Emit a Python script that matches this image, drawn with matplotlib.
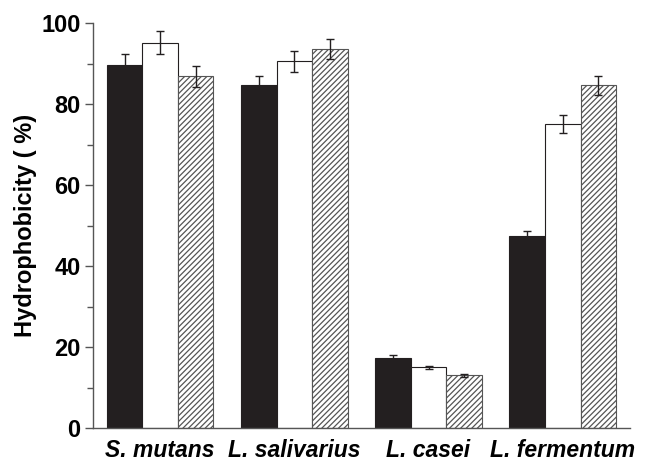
import numpy as np
import matplotlib
matplotlib.use('Agg')
import matplotlib.pyplot as plt
from matplotlib.ticker import MultipleLocator

plt.rcParams['font.family'] = ['Liberation Sans', 'DejaVu Sans']
plt.rcParams['hatch.linewidth'] = 0.9

# Data
strains = ['S. mutans', 'L. salivarius', 'L. casei', 'L. fermentum']
black_vals = [89.8, 84.7, 17.4, 47.4]
black_err = [2.7, 2.2, 0.7, 1.3]
white_vals = [95.2, 90.6, 15.0, 75.1]
white_err = [2.9, 2.6, 0.4, 2.3]
hatch_vals = [86.9, 93.7, 13.0, 84.7]
hatch_err = [2.6, 2.5, 0.3, 2.4]

fig = plt.figure(figsize=(6.46, 4.63), dpi=100)
ax = fig.add_axes([0.144, 0.0756, 0.831, 0.874])

x = np.arange(len(strains))
w = 0.265
ekw = dict(ecolor='#231f20', elinewidth=1.0, capthick=1.0)

ax.bar(x - w, black_vals, w, yerr=black_err, capsize=3, color='#231f20',
       edgecolor='#231f20', linewidth=0.8, error_kw=ekw)
ax.bar(x, white_vals, w, yerr=white_err, capsize=3, color='white',
       edgecolor='#231f20', linewidth=0.8, error_kw=ekw)
ax.bar(x + w, hatch_vals, w, yerr=hatch_err, capsize=3, color='white',
       edgecolor='#555555', hatch='//////', linewidth=0.8, error_kw=ekw)

ax.set_xlim(-0.5, 3.5)
ax.set_ylim(0, 100)
ax.yaxis.set_major_locator(MultipleLocator(20))
ax.yaxis.set_minor_locator(MultipleLocator(10))

ax.spines['top'].set_visible(False)
ax.spines['right'].set_visible(False)
for s in ['left', 'bottom']:
    ax.spines[s].set_color('#555555')
    ax.spines[s].set_linewidth(1.0)

ax.set_xticks(x)
ax.set_xticklabels(strains, fontsize=16.5, fontweight='bold', fontstyle='italic')
ax.tick_params(axis='x', length=0, pad=8)
ax.tick_params(axis='y', which='major', length=6, width=1, color='#555555',
               labelsize=17, pad=3)
ax.tick_params(axis='y', which='minor', length=4, width=1, color='#555555')
for lbl in ax.get_yticklabels():
    lbl.set_fontweight('bold')

ax.set_ylabel('Hydrophobicity ( %)', fontsize=17, fontweight='bold', labelpad=3)

fig.savefig('out.png', dpi=100)
